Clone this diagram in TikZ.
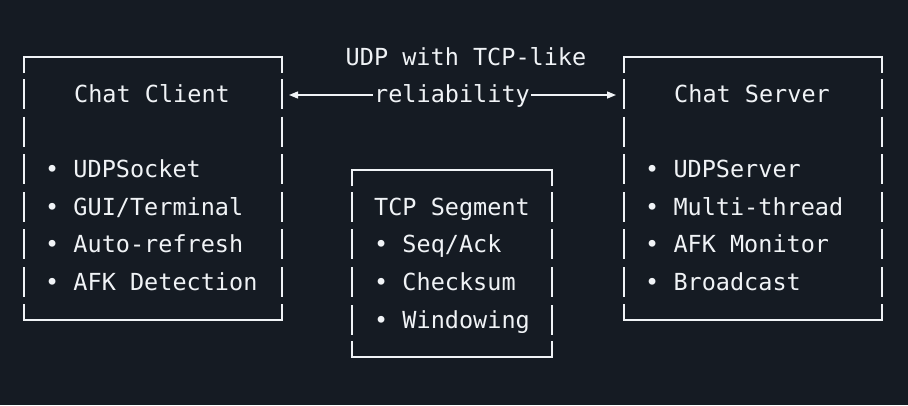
\documentclass[tikz,border=0pt]{standalone}
\usepackage{fontspec}
\setmonofont{DejaVu Sans Mono}
\usetikzlibrary{arrows.meta}
\definecolor{bg}{HTML}{151B23}
\definecolor{fg}{HTML}{F0F3F6}
\begin{document}
\begin{tikzpicture}[x=1pt,y=-1pt,
  txt/.style={text=fg,font=\ttfamily\fontsize{23.5}{23.5}\selectfont,inner sep=0pt,anchor=base west},
  ctxt/.style={txt,anchor=base},
  edge/.style={draw=fg,line width=1.6pt},
  arr/.style={draw=fg,line width=1.4pt,-{Triangle[length=9pt,width=7pt]}}]
\fill[bg] (0,0) rectangle (908,405);
\useasboundingbox (0,0) rectangle (908,405);
\newcommand{\mybox}[5]{%
  \draw[edge] (#1,#3+16) -- (#1,#3) -- (#2,#3) -- (#2,#3+16);
  \draw[edge] (#1,#4-16) -- (#1,#4) -- (#2,#4) -- (#2,#4-16);
  \foreach \r in {#5} {\draw[edge] (#1,\r-15) -- (#1,\r+15); \draw[edge] (#2,\r-15) -- (#2,\r+15);}
}
\mybox{24}{282}{57}{320}{94,131.5,169,207,244,282}
\mybox{624}{882}{57}{320}{94,131.5,169,207,244,282}
\mybox{352}{552}{170}{357}{207,244,282,320}
\node[txt] (cc) at (74,102) {Chat Client};
\node[txt] (l1) at (45,177) {• UDPSocket};
\node[txt] (l2) at (45,215) {• GUI/Terminal};
\node[txt] (l3) at (45,252) {• Auto-refresh};
\node[txt] (l4) at (45,290) {• AFK Detection};
\node[txt] (cs) at (674,102) {Chat Server};
\node[txt] (r1) at (645,177) {• UDPServer};
\node[txt] (r2) at (645,215) {• Multi-thread};
\node[txt] (r3) at (645,252) {• AFK Monitor};
\node[txt] (r4) at (645,290) {• Broadcast};
\node[txt] (ts) at (374,215) {TCP Segment};
\node[txt] (m1) at (374,252) {• Seq/Ack};
\node[txt] (m2) at (374,290) {• Checksum};
\node[txt] (m3) at (374,328) {• Windowing};
\node[ctxt] (t1) at (466,65) {UDP with TCP-like};
\node[ctxt] (t2) at (452,102) {reliability};
\coordinate (la) at (289,95);
\coordinate (ra) at (616,95);
\draw[arr] ([xshift=-1pt]t2.west |- la) -- (la);
\draw[arr] ([xshift=1pt]t2.east |- ra) -- (ra);
\end{tikzpicture}
\end{document}
